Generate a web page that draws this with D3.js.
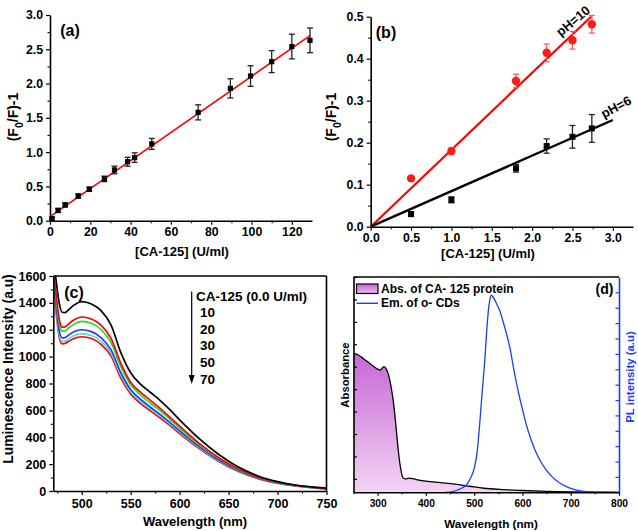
<!DOCTYPE html>
<html><head><meta charset="utf-8">
<script src="https://cdn.jsdelivr.net/npm/d3@7"></script>
<style>body{margin:0;background:#fff}svg{display:block}</style>
</head><body><svg id="chart" width="638" height="531"></svg>
<script>
// ---------- DATA ----------
// Panel (a)
const aConc = [1, 4, 7.5, 14, 19.5, 27, 32, 38.5, 42, 50.5, 73.5, 89.5, 99.5, 110, 120, 129];
const aRatio = [0.03, 0.15, 0.23, 0.36, 0.46, 0.61, 0.74, 0.86, 0.92, 1.12, 1.58, 1.93, 2.11, 2.32, 2.54, 2.63];
const aErr = [0.02, 0.03, 0.03, 0.03, 0.03, 0.04, 0.055, 0.065, 0.07, 0.08, 0.11, 0.14, 0.15, 0.16, 0.18, 0.18];
const aFitX = [0, 129];
const aFitY = [0.06, 2.70];
const aXTicks = [0, 20, 40, 60, 80, 100, 120];
const aYTicks = [0, 0.5, 1.0, 1.5, 2.0, 2.5, 3.0];

// Panel (b)
const bConc = [0.5, 1.0, 1.8, 2.18, 2.5, 2.74];
const bPH6 = [0.030, 0.064, 0.139, 0.192, 0.214, 0.234];
const bPH6Err = [0.005, 0.007, 0.009, 0.017, 0.027, 0.033];
const bPH10 = [0.115, 0.180, 0.347, 0.414, 0.444, 0.482];
const bPH10Err = [0.003, 0.008, 0.016, 0.021, 0.021, 0.021];
const bFit6X = [0, 3.0], bFit6Y = [0, 0.254];
const bFit10X = [0, 2.73], bFit10Y = [0, 0.50];
const bXTicks = [0, 0.5, 1.0, 1.5, 2.0, 2.5, 3.0];
const bYTicks = [0, 0.1, 0.2, 0.3, 0.4, 0.5];

// Panel (c)
const cWl = [471, 474, 477, 480, 483, 487, 492, 500, 510, 520, 530, 540, 550, 560, 570, 580, 590, 600, 620, 640, 660, 680, 700, 720, 740, 750];
const c0  = [1750, 1560, 1400, 1330, 1328, 1352, 1383, 1410, 1392, 1340, 1235, 1030, 880, 795, 735, 675, 605, 530, 390, 272, 178, 112, 70, 43, 27, 21];
const c10 = [1650, 1450, 1280, 1220, 1222, 1245, 1272, 1295, 1280, 1232, 1135, 950, 810, 735, 675, 615, 550, 482, 355, 248, 163, 103, 65, 40, 25, 19];
const c20 = [1620, 1420, 1250, 1190, 1192, 1215, 1240, 1262, 1248, 1200, 1105, 925, 790, 715, 655, 598, 535, 468, 345, 241, 158, 100, 63, 39, 24, 18];
const c30 = [1580, 1370, 1195, 1140, 1142, 1162, 1185, 1200, 1186, 1140, 1050, 880, 755, 683, 625, 570, 510, 447, 330, 230, 151, 96, 60, 37, 23, 17];
const c50 = [1560, 1345, 1165, 1112, 1115, 1135, 1155, 1170, 1157, 1112, 1025, 860, 738, 668, 612, 558, 500, 438, 323, 225, 148, 94, 59, 36, 22, 16];
const c70 = [1540, 1320, 1145, 1095, 1098, 1115, 1135, 1148, 1135, 1090, 1005, 840, 722, 652, 598, 545, 488, 428, 316, 220, 145, 92, 58, 36, 22, 15];
const cSeries = [c0, c10, c20, c30, c50, c70];
const cLegend = ["CA-125 (0.0 U/ml)", "10", "20", "30", "50", "70"];
const cXTicks = [500, 550, 600, 650, 700, 750];
const cYTicks = [0, 200, 400, 600, 800, 1000, 1200, 1400, 1600];

// Panel (d)
const dAbsWl = [250, 260, 270, 280, 290, 300, 305, 310, 313, 318, 322, 327, 332, 337, 342, 347, 352, 357, 365, 380, 400, 430, 460, 490, 520, 560, 600, 650, 700, 750, 800];
const dAbs = [0.559, 0.552, 0.537, 0.521, 0.504, 0.489, 0.485, 0.495, 0.500, 0.489, 0.468, 0.420, 0.353, 0.257, 0.142, 0.055, 0.007, 0.000, 0.003, -0.003, -0.010, -0.017, -0.024, -0.033, -0.042, -0.048, -0.052, -0.056, -0.058, -0.059, -0.060];
const dEmWl = [440, 455, 466, 476, 487, 495, 501, 506, 511, 516, 522, 526, 530, 533, 535.5, 539, 546, 553, 560, 567, 574, 582, 591, 600, 608, 617, 626, 636, 648, 660, 675, 690, 705, 720, 740, 760, 800];
const dEm = [0, 0.05, 0.15, 0.3, 0.6, 1.1, 1.67, 2.6, 4.27, 6.3, 8.6, 10.5, 12.0, 12.6, 12.82, 12.7, 12.29, 11.8, 11.09, 10.3, 9.4, 8.0, 6.6, 5.4, 4.4, 3.5, 2.75, 2.1, 1.5, 1.05, 0.65, 0.38, 0.2, 0.09, 0.03, 0.0, 0];
const dXTicks = [300, 400, 500, 600, 700, 800];
const dLegend = ["Abs. of CA- 125 protein", "Em. of o- CDs"];

// ---------- DRAWING ----------
const FONT = '"Liberation Sans", Arial, Helvetica, sans-serif';
const svg = d3.select('#chart');
svg.append('rect').attr('width', 638).attr('height', 531).attr('fill', '#fff');
const defs = svg.append('defs');

function range(a, b, s) { const r = []; for (let v = a; v <= b + 1e-9; v += s) r.push(+v.toFixed(6)); return r; }

function makeAxis(kind, scale, tr, major, minor, fmt, o) {
  const mk = kind === 'left' ? d3.axisLeft : kind === 'right' ? d3.axisRight : d3.axisBottom;
  const col = o.color || '#000';
  if (minor) {
    const gm = svg.append('g').attr('transform', tr)
      .call(mk(scale).tickValues(minor).tickFormat('').tickSize(o.msize).tickSizeOuter(0));
    gm.select('.domain').remove();
    gm.selectAll('line').attr('stroke', col).attr('stroke-width', 1.1);
  }
  const g = svg.append('g').attr('transform', tr)
    .call(mk(scale).tickValues(major).tickFormat(fmt).tickSize(o.size).tickSizeOuter(0).tickPadding(o.pad));
  g.attr('font-family', FONT).attr('font-size', o.fs).attr('font-weight', 'bold');
  g.select('.domain').attr('stroke', col).attr('stroke-width', 1.6);
  g.selectAll('.tick line').attr('stroke', col).attr('stroke-width', 1.2);
  g.selectAll('.tick text').attr('fill', '#000');
  return g;
}
function label(x, y, txt, fs, opts = {}) {
  const t = svg.append('text').attr('x', x).attr('y', y).attr('font-family', FONT)
    .attr('font-weight', 'bold').attr('font-size', fs).attr('fill', opts.fill || '#000')
    .attr('text-anchor', opts.anchor || 'middle').attr('dominant-baseline', 'central');
  if (opts.rot !== undefined) t.attr('transform', `rotate(${opts.rot},${x},${y})`);
  t.text(txt);
  return t;
}
function ratioLabel(x, y, fs) {
  const t = svg.append('text').attr('x', x).attr('y', y).attr('font-family', FONT)
    .attr('font-weight', 'bold').attr('font-size', fs).attr('text-anchor', 'middle')
    .attr('dominant-baseline', 'central').attr('transform', `rotate(-90,${x},${y})`);
  t.append('tspan').text('(F');
  t.append('tspan').attr('baseline-shift', 'sub').attr('font-size', fs * 0.75).text('0');
  t.append('tspan').text('/F)-1');
}
function errBars(xs, ys, es, xS, yS, col, cap) {
  const g = svg.append('g').attr('stroke', col).attr('stroke-width', 1.3);
  xs.forEach((x, i) => {
    const px = xS(x), y1 = yS(ys[i] - es[i]), y2 = yS(ys[i] + es[i]);
    g.append('line').attr('x1', px).attr('x2', px).attr('y1', y1).attr('y2', y2);
    g.append('line').attr('x1', px - cap).attr('x2', px + cap).attr('y1', y1).attr('y2', y1);
    g.append('line').attr('x1', px - cap).attr('x2', px + cap).attr('y1', y2).attr('y2', y2);
  });
}

// ---- Panel (a) ----
{
  const x = d3.scaleLinear().domain([0, 130]).range([50, 312]);
  const y = d3.scaleLinear().domain([0, 3.0]).range([220.7, 15]);
  makeAxis('bottom', x, `translate(0,${y(0)})`, aXTicks, range(10, 110, 20), d3.format('d'), { size: 4, msize: 2.5, pad: 3, fs: 12.3 });
  makeAxis('left', y, `translate(${x(0)},0)`, aYTicks, range(0.25, 2.75, 0.5), d3.format('.1f'), { size: 4, msize: 2.5, pad: 3, fs: 12.3 });
  svg.append('line').attr('x1', x(aFitX[0])).attr('y1', y(aFitY[0])).attr('x2', x(aFitX[1])).attr('y2', y(aFitY[1]))
    .attr('stroke', '#ff0000').attr('stroke-width', 1.6);
  errBars(aConc, aRatio, aErr, x, y, '#222', 3);
  svg.append('g').selectAll('rect').data(aConc).join('rect')
    .attr('x', (d) => x(d) - 2.6).attr('y', (d, i) => y(aRatio[i]) - 2.6).attr('width', 5.2).attr('height', 5.2).attr('fill', '#000');
  label(70, 30, '(a)', 16);
  label(182, 251.5, '[CA-125] (U/ml)', 13);
  ratioLabel(13, 117, 14);
}

// ---- Panel (b) ----
{
  const x = d3.scaleLinear().domain([0, 3.25]).range([370.7, 633]);
  const y = d3.scaleLinear().domain([0, 0.5]).range([226.7, 16.7]);
  makeAxis('bottom', x, `translate(0,${y(0)})`, bXTicks, range(0.25, 2.75, 0.5), d3.format('.1f'), { size: 4, msize: 2.5, pad: 2.5, fs: 12.3 });
  makeAxis('left', y, `translate(${x(0)},0)`, bYTicks, range(0.05, 0.45, 0.1), d3.format('.1f'), { size: 4, msize: 2.5, pad: 3, fs: 12.3 });
  svg.append('line').attr('x1', x(bFit10X[0])).attr('y1', y(bFit10Y[0])).attr('x2', x(bFit10X[1])).attr('y2', y(bFit10Y[1]))
    .attr('stroke', '#ff0000').attr('stroke-width', 2.2);
  svg.append('line').attr('x1', x(bFit6X[0])).attr('y1', y(bFit6Y[0])).attr('x2', x(bFit6X[1])).attr('y2', y(bFit6Y[1]))
    .attr('stroke', '#000').attr('stroke-width', 2.4);
  errBars(bConc, bPH10, bPH10Err, x, y, '#ff5a5a', 3);
  errBars(bConc, bPH6, bPH6Err, x, y, '#222', 3);
  svg.append('g').selectAll('rect').data(bConc).join('rect')
    .attr('x', (d) => x(d) - 3).attr('y', (d, i) => y(bPH6[i]) - 3).attr('width', 6).attr('height', 6).attr('fill', '#000');
  svg.append('g').selectAll('circle').data(bConc).join('circle')
    .attr('cx', (d) => x(d)).attr('cy', (d, i) => y(bPH10[i])).attr('r', 4.2).attr('fill', '#ff1a1a');
  label(386, 32, '(b)', 16);
  label(573, 21, 'pH=10', 13, { rot: -40 });
  label(616, 107, 'pH=6', 13, { rot: -28 });
  label(488, 253.5, '[CA-125] (U/ml)', 13);
  ratioLabel(331, 117, 14);
}

// ---- Panel (c) ----
{
  const x = d3.scaleLinear().domain([471, 750]).range([53.3, 326.5]);
  const y = d3.scaleLinear().domain([0, 1600]).range([491, 276]);
  defs.append('clipPath').attr('id', 'clipC').append('rect')
    .attr('x', 53.3).attr('y', 276).attr('width', 326.5 - 53.3).attr('height', 491 - 276);
  const cols = ['#000000', '#ff0000', '#22dd22', '#1f3fff', '#66d6cc', '#ff0000'];
  const line = d3.line().x((d) => x(d[0])).y((d) => y(d[1])).curve(d3.curveMonotoneX);
  const gc = svg.append('g').attr('clip-path', 'url(#clipC)');
  cSeries.slice().reverse().forEach((s, ri) => {
    const i = cSeries.length - 1 - ri;
    gc.append('path').attr('d', line(cWl.map((w, k) => [w, s[k]]))).attr('fill', 'none')
      .attr('stroke', cols[i]).attr('stroke-width', 1.7);
  });
  svg.append('line').attr('x1', 53.3).attr('x2', 326.5).attr('y1', 276).attr('y2', 276).attr('stroke', '#000').attr('stroke-width', 1.6);
  svg.append('line').attr('x1', 326.5).attr('x2', 326.5).attr('y1', 276).attr('y2', 491).attr('stroke', '#000').attr('stroke-width', 1.6);
  makeAxis('bottom', x, `translate(0,${y(0)})`, cXTicks, range(475, 725, 50), d3.format('d'), { size: 4, msize: 2.5, pad: 4, fs: 12.5 });
  makeAxis('left', y, `translate(${x(471)},0)`, cYTicks, range(100, 1500, 200), d3.format('d'), { size: 4, msize: 2.5, pad: 3, fs: 12.5 });
  label(74, 292, '(c)', 16);
  svg.append('line').attr('x1', 191.7).attr('x2', 191.7).attr('y1', 291.5).attr('y2', 376).attr('stroke', '#000').attr('stroke-width', 1.2);
  svg.append('path').attr('d', 'M188.7,375 L194.7,375 L191.7,384 Z').attr('fill', '#000');
  cLegend.forEach((t, i) => {
    label(i === 0 ? 196 : 200, 296 + i * 16.6, t, 13.5, { anchor: 'start' });
  });
  label(195, 521, 'Wavelength (nm)', 13);
  label(8, 369, 'Luminescence Intensity (a.u)', 13.8, { rot: -90 });
}

// ---- Panel (d) ----
{
  const x = d3.scaleLinear().domain([250, 800]).range([353.5, 619]);
  const yA = d3.scaleLinear().domain([-0.06, 0.9]).range([492.3, 277]);
  const yE = d3.scaleLinear().domain([0, 14]).range([492.3, 277]);
  const grad = defs.append('linearGradient').attr('id', 'absGrad').attr('gradientUnits', 'userSpaceOnUse')
    .attr('x1', 0).attr('x2', 0).attr('y1', 352).attr('y2', 492);
  grad.append('stop').attr('offset', 0).attr('stop-color', '#c766d6');
  grad.append('stop').attr('offset', 1).attr('stop-color', '#f3d3f3');
  const lg = defs.append('linearGradient').attr('id', 'legGrad').attr('x1', 0).attr('x2', 0).attr('y1', 0).attr('y2', 1);
  lg.append('stop').attr('offset', 0).attr('stop-color', '#c766d6');
  lg.append('stop').attr('offset', 1).attr('stop-color', '#eab6ee');
  const pts = dAbsWl.map((w, k) => [w, dAbs[k]]);
  const area = d3.area().x((d) => x(d[0])).y0(yA(-0.06)).y1((d) => yA(d[1])).curve(d3.curveMonotoneX);
  svg.append('path').attr('d', area(pts)).attr('fill', 'url(#absGrad)');
  svg.append('path').attr('d', d3.line().x((d) => x(d[0])).y((d) => yA(d[1])).curve(d3.curveMonotoneX)(pts))
    .attr('fill', 'none').attr('stroke', '#000').attr('stroke-width', 1.3);
  svg.append('path').attr('d', d3.line().x((d) => x(d[0])).y((d) => yE(d[1])).curve(d3.curveMonotoneX)(dEmWl.map((w, k) => [w, dEm[k]])))
    .attr('fill', 'none').attr('stroke', '#1a3cff').attr('stroke-width', 1.3);
  svg.append('line').attr('x1', 353.5).attr('x2', 619).attr('y1', 277).attr('y2', 277).attr('stroke', '#000').attr('stroke-width', 1.6);
  makeAxis('bottom', x, `translate(0,492.3)`, dXTicks, range(250, 750, 100), d3.format('d'), { size: 3.5, msize: 2, pad: 4, fs: 10.2 });
  makeAxis('left', yA, `translate(353.5,0)`, range(0, 0.9, 0.1), null, '', { size: -3.5, pad: 3, fs: 10 });
  makeAxis('right', yE, `translate(619,0)`, range(1, 13, 1), null, '', { size: -3.5, pad: 3, fs: 10, color: '#1a3cff' });
  svg.append('rect').attr('x', 356.5).attr('y', 284).attr('width', 21.5).attr('height', 9.5)
    .attr('fill', 'url(#legGrad)').attr('stroke', '#000').attr('stroke-width', 1.2);
  label(381, 289, dLegend[0], 12, { anchor: 'start' });
  svg.append('line').attr('x1', 356.5).attr('x2', 378).attr('y1', 303.3).attr('y2', 303.3).attr('stroke', '#1a3cff').attr('stroke-width', 1.4);
  label(381, 303.3, dLegend[1], 12, { anchor: 'start' });
  label(604.5, 289, '(d)', 14);
  label(491, 523, 'Wavelength (nm)', 11.7);
  label(345, 375, 'Absorbance', 11.3, { rot: -90 });
  label(630, 377, 'PL intensity (a.u)', 11.4, { rot: -90, fill: '#1a3cff' });
}
</script></body></html>
